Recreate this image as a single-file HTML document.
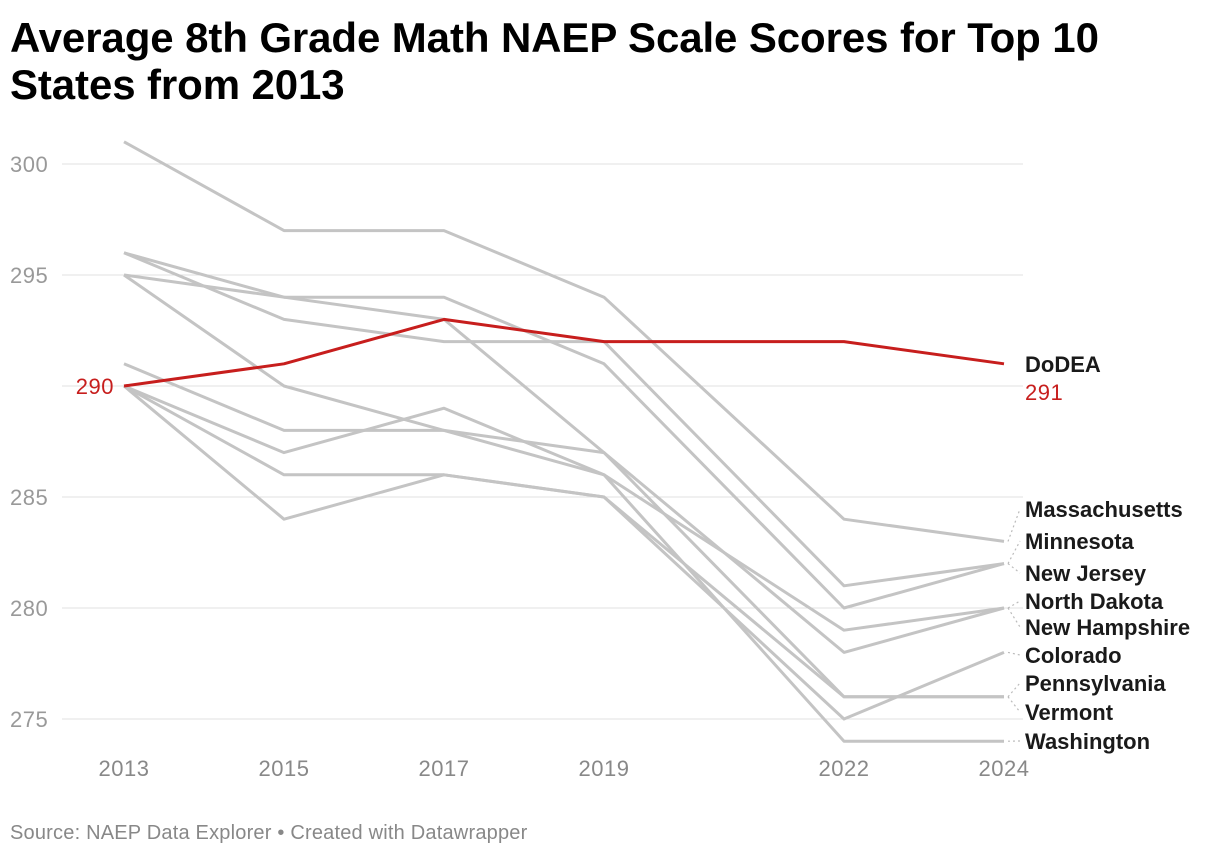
<!DOCTYPE html>
<html><head><meta charset="utf-8">
<style>
body{margin:0;background:#fff;font-family:"Liberation Sans",sans-serif;}
#wrap{position:relative;width:1220px;height:858px;overflow:hidden;}
h1{position:absolute;left:10px;top:14px;margin:0;font-size:42px;line-height:47px;font-weight:bold;color:#000;width:1120px;letter-spacing:-0.1px}
#src{position:absolute;left:10px;top:822px;font-size:20px;color:#888;letter-spacing:0.2px}
</style></head><body>
<div id="wrap">
<h1>Average 8th Grade Math NAEP Scale Scores for Top 10 States from 2013</h1>
<svg id="chart" width="1220" height="858" style="position:absolute;left:0;top:0"></svg>
<div id="src">Source: NAEP Data Explorer • Created with Datawrapper</div>
</div>
<script>
const years=[2013,2015,2017,2019,2022,2024];
const yTicks=[275,280,285,290,295,300];
const stateNames=["Massachusetts","Minnesota","New Jersey","North Dakota","New Hampshire","Colorado","Pennsylvania","Vermont","Washington"];
const massachusetts=[301,297,297,294,284,283];
const minnesota=[295,294,294,291,280,282];
const newJersey=[296,293,292,292,281,282];
const northDakota=[291,288,288,286,279,280];
const newHampshire=[296,294,293,287,278,280];
const colorado=[290,286,286,285,275,278];
const pennsylvania=[290,284,286,285,276,276];
const vermont=[295,290,288,287,276,276];
const washington=[290,287,289,286,274,274];
const dodea=[290,291,293,292,292,291];
const stateSeries=[massachusetts,minnesota,newJersey,northDakota,newHampshire,colorado,pennsylvania,vermont,washington];
const labelY=[517,549,581,609,635,663,691,720,749];

const NS="http://www.w3.org/2000/svg";
const svg=document.getElementById('chart');
const x=yr=>124+(yr-2013)*80;
const y=v=>719-(v-275)*22.2;
function el(t,a,p){const e=document.createElementNS(NS,t);for(const k in a)e.setAttribute(k,a[k]);(p||svg).appendChild(e);return e;}

yTicks.forEach(t=>{
  const g=el('line',{x1:62,x2:1023,y1:y(t),y2:y(t),stroke:'#e0e0e0','stroke-width':1});
  
  
  if(t===290)return;
  const l=el('text',{x:10,y:y(t)+8,'font-size':22,fill:'#999','letter-spacing':0.5});
  l.textContent=t;
  
  
});
years.forEach(yr=>{
  const l=el('text',{x:x(yr),y:776,'font-size':22,fill:'#888','text-anchor':'middle','letter-spacing':0.5});
  l.textContent=yr;
  
  
});
stateSeries.forEach((s,i)=>{
  const p=el('polyline',{points:s.map((v,j)=>x(years[j])+','+y(v)).join(' '),fill:'none',stroke:'#c4c4c4','stroke-width':3,'stroke-linejoin':'round'});
  
  
  const ey=y(s[s.length-1]);
  const c=el('line',{x1:1008,y1:ey,x2:1020,y2:labelY[i]-8,stroke:'#bbb','stroke-width':1.2,'stroke-dasharray':'2,3'});
  
  
  const t=el('text',{x:1025,y:labelY[i],'font-size':22,'font-weight':'bold',fill:'#1a1a1a'});
  t.textContent=stateNames[i];
  
  
});
const d=el('polyline',{points:dodea.map((v,j)=>x(years[j])+','+y(v)).join(' '),fill:'none',stroke:'#c71e1d','stroke-width':3,'stroke-linejoin':'round'});


const ds=el('text',{x:114,y:y(dodea[0])+8,'font-size':22,fill:'#c71e1d','text-anchor':'end','letter-spacing':0.5});
ds.textContent=dodea[0];


const dl=el('text',{x:1025,y:372,'font-size':22,'font-weight':'bold',fill:'#1a1a1a'});
dl.textContent='DoDEA';


const de=el('text',{x:1025,y:400,'font-size':22,fill:'#c71e1d','letter-spacing':0.5});
de.textContent=dodea[dodea.length-1];


</script>
</body></html>
